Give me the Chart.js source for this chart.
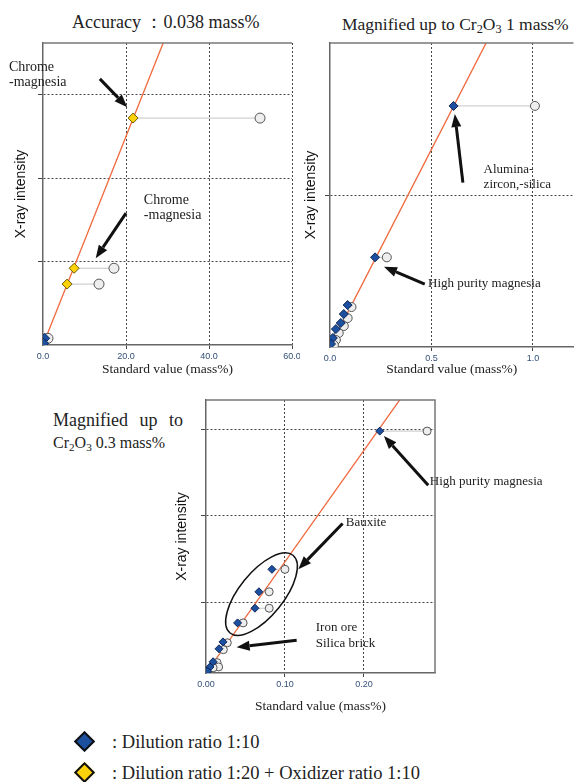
<!DOCTYPE html>
<html>
<head>
<meta charset="utf-8">
<script src="https://cdn.jsdelivr.net/npm/chart.js@4.4.0/dist/chart.umd.min.js"></script>
<style>
body{margin:0;background:#fff;width:579px;height:782px;position:relative;overflow:hidden;font-family:'Liberation Serif',serif;color:#222}
canvas{position:absolute}
.ttl{position:absolute;white-space:nowrap;color:#222;line-height:1}
.ttl sub{font-size:70%;vertical-align:-0.28em;line-height:0}
.dia{position:absolute;width:11px;height:11px;transform:rotate(45deg);border:2px solid #111}
.leg{position:absolute;left:112px;font-size:18.5px;white-space:nowrap;line-height:1}
</style>
</head>
<body>
<div class="ttl" style="left:72px;top:13px;font-size:18px">Accuracy ：0.038 mass%</div>
<div class="ttl" style="left:342px;top:16px;font-size:17.5px">Magnified up to Cr<sub>2</sub>O<sub>3</sub> 1 mass%</div>
<div class="ttl" style="left:53px;top:411px;font-size:18px;word-spacing:7px">Magnified up to</div>
<div class="ttl" style="left:53px;top:435px;font-size:16px">Cr<sub>2</sub>O<sub>3</sub> 0.3 mass%</div>

<canvas id="chart1" width="300" height="380" style="left:0;top:0"></canvas>
<canvas id="chart2" width="289" height="380" style="left:290px;top:0"></canvas>
<canvas id="chart3" width="419" height="330" style="left:160px;top:390px"></canvas>

<div class="dia" style="left:77px;top:734px;background:#1d4f9f"></div>
<div class="leg" style="top:733px">: Dilution ratio 1:10</div>
<div class="dia" style="left:77px;top:765px;background:#fcd20a"></div>
<div class="leg" style="top:764px">: Dilution ratio 1:20 + Oxidizer ratio 1:10</div>

<script>
// ---- chart 1 : whole range, 0 - 60 mass%
const xTicks1 = [0, 20, 40, 60];
const yGrid1 = [1, 2, 3];
const yelX1 = [21.7, 7.5, 5.8];
const yelY1 = [2.72, 0.92, 0.73];
const bluX1 = [0.4, 0.15];
const bluY1 = [0.08, 0.02];
const refX1 = [52.3, 17.1, 13.5, 1.2];
const refY1 = [2.72, 0.92, 0.73, 0.08];
const fitX1 = [0, 30];
const fitY1 = [0, 3.75];

// ---- chart 2 : up to Cr2O3 1 mass%
const xTicks2 = [0, 0.5, 1.0];
const yGrid2 = [1];
const bluX2 = [0.609, 0.222, 0.087, 0.068, 0.053, 0.029, 0.014, 0.005];
const bluY2 = [1.586, 0.59, 0.276, 0.217, 0.158, 0.118, 0.059, 0.02];
const refX2 = [1.01, 0.28, 0.106, 0.087, 0.068, 0.043, 0.029, 0.019];
const refY2 = [1.586, 0.59, 0.263, 0.19, 0.138, 0.092, 0.046, 0.013];
const fitX2 = [0, 0.8];
const fitY2 = [0, 2.08];

// ---- chart 3 : up to Cr2O3 0.3 mass%
const xTicks3 = [0, 0.1, 0.2];
const yGrid3 = [0.82, 1.82, 2.82];
const bluX3 = [0.220, 0.0835, 0.067, 0.062, 0.040, 0.0215, 0.0165, 0.009, 0.005, 0.002];
const bluY3 = [2.80, 1.20, 0.94, 0.75, 0.58, 0.36, 0.28, 0.13, 0.07, 0.02];
const refX3 = [0.280, 0.100, 0.080, 0.080, 0.047, 0.027, 0.022, 0.014, 0.016, 0.009];
const refY3 = [2.80, 1.20, 0.94, 0.75, 0.58, 0.35, 0.27, 0.12, 0.07, 0.06];
const fitX3 = [0, 0.26];
const fitY3 = [0, 3.35];

// annotations (arrows / labels) in data units of each chart
const notes = {
    chart1: {
        size: 14, frameRight: false,
        texts: [[-8.2, 3.33, 'Chrome'], [-8.2, 3.15, '-magnesia'], [24.3, 1.74, 'Chrome'], [24.3, 1.56, '-magnesia']],
        arrows: [[13.7, 3.19, 20.3, 2.85], [20.0, 1.58, 12.7, 1.04]],
        ellipses: []
    },
    chart2: {
        size: 13, frameRight: false,
        texts: [[0.757, 1.164, 'Alumina-'], [0.757, 1.07, 'zircon,-silica'], [0.483, 0.414, 'High purity magnesia']],
        arrows: [[0.655, 1.081, 0.615, 1.533], [0.467, 0.414, 0.266, 0.528]],
        ellipses: []
    },
    chart3: {
        size: 13, frameRight: true,
        texts: [[0.2835, 2.22, 'High purity magnesia'], [0.177, 1.742, 'Bauxite'], [0.139, 0.528, 'Iron ore'], [0.139, 0.343, 'Silica brick']],
        arrows: [[0.2814, 2.173, 0.2253, 2.743], [0.173, 1.73, 0.1169, 1.202], [0.1148, 0.38, 0.0388, 0.297]],
        ellipses: [[0.0703, 0.913, 50, 22, -0.89]]
    }
};

function pts(xs, ys){
    return xs.map((x, i) => ({x: x, y: ys[i]}));
}

function pairs(dx, dy, rx, ry){
    const out = [];
    for (let i = 0; i < rx.length; i++) {
        out.push({x: dx[i], y: dy[i]}, {x: rx[i], y: ry[i]}, {x: null, y: null});
    }
    return out;
}

function arrow(ctx, x1, y1, x2, y2){
    const ang = Math.atan2(y2 - y1, x2 - x1);
    const L = 13, W = 5;
    const bx = x2 - L * Math.cos(ang), by = y2 - L * Math.sin(ang);
    ctx.lineWidth = 3;
    ctx.beginPath();
    ctx.moveTo(x1, y1);
    ctx.lineTo(bx, by);
    ctx.stroke();
    ctx.beginPath();
    ctx.moveTo(x2, y2);
    ctx.lineTo(bx - W * Math.sin(ang), by + W * Math.cos(ang));
    ctx.lineTo(bx + W * Math.sin(ang), by - W * Math.cos(ang));
    ctx.closePath();
    ctx.fill();
}

const notePlugin = {
    id: 'notes',
    afterDraw(chart){
        const n = notes[chart.canvas.id];
        const ctx = chart.ctx, a = chart.chartArea;
        const xs = chart.scales.x, ys = chart.scales.y;
        ctx.save();
        // frame on top (and right)
        ctx.strokeStyle = '#777';
        ctx.lineWidth = 1.5;
        ctx.beginPath();
        ctx.moveTo(a.left, a.top);
        ctx.lineTo(a.right, a.top);
        if (n.frameRight) ctx.lineTo(a.right, a.bottom);
        ctx.stroke();

        ctx.strokeStyle = '#111';
        ctx.fillStyle = '#111';
        n.ellipses.forEach(e => {
            ctx.lineWidth = 1.5;
            ctx.beginPath();
            ctx.ellipse(xs.getPixelForValue(e[0]), ys.getPixelForValue(e[1]), e[2], e[3], e[4], 0, Math.PI * 2);
            ctx.stroke();
        });
        n.arrows.forEach(r => {
            arrow(ctx, xs.getPixelForValue(r[0]), ys.getPixelForValue(r[1]), xs.getPixelForValue(r[2]), ys.getPixelForValue(r[3]));
        });
        ctx.fillStyle = '#222';
        ctx.font = n.size + "px 'Liberation Serif', serif";
        ctx.textBaseline = 'middle';
        ctx.textAlign = 'left';
        n.texts.forEach(t => {
            ctx.fillText(t[2], xs.getPixelForValue(t[0]), ys.getPixelForValue(t[1]));
        });
        ctx.restore();
    }
};

function drawChart(id, o){
    const datasets = [];
    o.diamonds.forEach(d => {
        datasets.push({
            data: pts(d.x, d.y), pointStyle: 'rectRot', pointRadius: o.r,
            backgroundColor: d.fill, borderColor: d.edge, borderWidth: 1, showLine: false, order: 0
        });
    });
    datasets.push({
        data: pts(o.refX, o.refY), pointStyle: 'circle', pointRadius: o.r,
        backgroundColor: '#eeeeee', borderColor: '#555', borderWidth: 1, showLine: false, order: 1
    });
    datasets.push({
        data: pairs(o.pairX, o.pairY, o.refX, o.refY), showLine: true, spanGaps: false,
        pointRadius: 0, borderColor: '#c4c4c4', borderWidth: 1, order: 2
    });
    datasets.push({
        data: pts(o.fitX, o.fitY), showLine: true, pointRadius: 0,
        borderColor: '#f0683c', borderWidth: 1.3, order: 3
    });

    const gridCol = c => (c.tick && c.tick.value === 0) ? 'rgba(0,0,0,0)' : '#444';
    const border = {display: true, color: '#666', width: 1.5, dash: [2, 2]};

    new Chart(document.getElementById(id), {
        type: 'scatter',
        data: {datasets: datasets},
        options: {
            responsive: false,
            animation: false,
            events: [],
            layout: {padding: {top: o.padTop, right: o.padRight, left: 0, bottom: 0}},
            plugins: {legend: {display: false}, tooltip: {enabled: false}},
            scales: {
                x: {
                    type: 'linear', min: 0, max: o.xMax,
                    afterBuildTicks: s => { s.ticks = o.xTicks.map(v => ({value: v})); },
                    afterFit: s => { s.height = o.xH; s.paddingLeft = 0; s.paddingRight = 0; },
                    ticks: {
                        callback: v => Number(v).toFixed(o.dec), autoSkip: false, maxRotation: 0,
                        font: {family: "'Liberation Sans', sans-serif", size: 9}, color: '#34507a', padding: 2
                    },
                    grid: {color: gridCol, lineWidth: 1, tickLength: 4},
                    border: border,
                    title: {
                        display: true, text: 'Standard value (mass%)', color: '#222',
                        font: {family: "'Liberation Serif', serif", size: 13.5},
                        padding: {top: 0, bottom: o.xTitlePad}
                    }
                },
                y: {
                    type: 'linear', min: 0, max: o.yMax,
                    afterBuildTicks: s => { s.ticks = o.yGrid.map(v => ({value: v})); },
                    afterFit: s => { s.width = o.yW; s.paddingTop = 0; s.paddingBottom = 0; },
                    ticks: {display: false},
                    grid: {color: gridCol, lineWidth: 1, tickLength: 5},
                    border: border,
                    title: {
                        display: true, text: 'X-ray intensity', color: '#111',
                        font: {family: "'Liberation Sans Narrow', 'Liberation Sans', sans-serif", size: 14},
                        padding: {top: o.yTitlePad, bottom: 0}
                    }
                }
            }
        },
        plugins: [notePlugin]
    });
}

const blueDia = {fill: '#1d4f9f', edge: '#0d2657'};
const yellowDia = {fill: '#fcd20a', edge: '#6b5a00'};

drawChart('chart1', {
    diamonds: [Object.assign({x: yelX1, y: yelY1}, yellowDia), Object.assign({x: bluX1, y: bluY1}, blueDia)],
    pairX: yelX1.concat(bluX1), pairY: yelY1.concat(bluY1),
    refX: refX1, refY: refY1, fitX: fitX1, fitY: fitY1,
    xTicks: xTicks1, yGrid: yGrid1, xMax: 60, yMax: 3.62, dec: 1, r: 5,
    padTop: 43, padRight: 8, yW: 43, xH: 35, xTitlePad: 2, yTitlePad: 13
});

drawChart('chart2', {
    diamonds: [Object.assign({x: bluX2, y: bluY2}, blueDia)],
    pairX: bluX2, pairY: bluY2,
    refX: refX2, refY: refY2, fitX: fitX2, fitY: fitY2,
    xTicks: xTicks2, yGrid: yGrid2, xMax: 1.2, yMax: 2, dec: 1, r: 4.5,
    padTop: 43, padRight: 0, yW: 40, xH: 33, xTitlePad: 2, yTitlePad: 13
});

drawChart('chart3', {
    diamonds: [Object.assign({x: bluX3, y: bluY3}, blueDia)],
    pairX: bluX3, pairY: bluY3,
    refX: refX3, refY: refY3, fitX: fitX3, fitY: fitY3,
    xTicks: xTicks3, yGrid: yGrid3, xMax: 0.29, yMax: 3.16, dec: 2, r: 4,
    padTop: 10, padRight: 144, yW: 46, xH: 47, xTitlePad: 5, yTitlePad: 14
});
</script>
</body>
</html>
